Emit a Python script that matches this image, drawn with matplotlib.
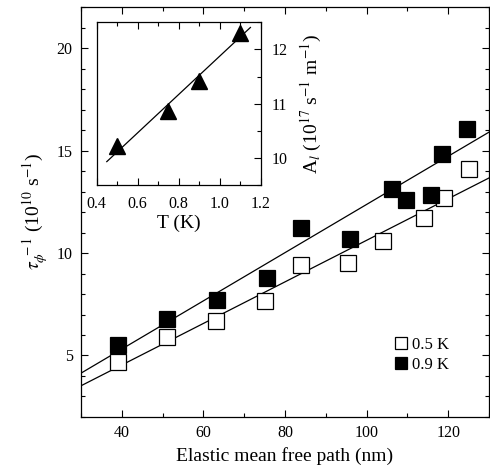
import matplotlib
matplotlib.use('Agg')
import matplotlib.pyplot as plt
from matplotlib.ticker import MultipleLocator
import numpy as np

plt.rcParams['font.family'] = ['Liberation Serif', 'DejaVu Serif']
plt.rcParams['mathtext.fontset'] = 'stix'

# dephasing rate vs elastic mean free path
path_05 = [39, 51, 63, 75, 84, 95.5, 104, 114, 119, 125]
rate_05 = [4.7, 5.9, 6.7, 7.65, 9.4, 9.5, 10.6, 11.7, 12.7, 14.1]
path_09 = [39, 51, 63.3, 75.5, 84, 96, 106.2, 109.6, 115.8, 118.4, 124.6]
rate_09 = [5.5, 6.8, 7.7, 8.8, 11.2, 10.7, 13.1, 12.6, 12.85, 14.85, 16.05]

# linear fits (slope, intercept)
fit_05 = (0.1014, 0.48)
fit_09 = (0.1176, 0.61)

# inset: slope A_l vs temperature
temp = [0.5, 0.75, 0.9, 1.1]
a_l = [10.22, 10.87, 11.42, 12.3]
fit_a = (3.53, 8.345)
fit_a_range = (0.45, 1.15)


def style_ticks(ax, size=11.5):
    ax.tick_params(which='both', direction='in', top=True, right=True,
                   labelsize=size, width=0.8, pad=6)
    ax.tick_params(which='major', length=5)
    ax.tick_params(which='minor', length=3)
    for s in ax.spines.values():
        s.set_linewidth(0.9)


fig = plt.figure(figsize=(4.9, 4.7), dpi=100)
ax = fig.add_axes([0.1653, 0.1128, 0.8327, 0.8722])

xf = np.array([30, 130])
ax.plot(xf, fit_05[0] * xf + fit_05[1], color='black', lw=0.9)
ax.plot(xf, fit_09[0] * xf + fit_09[1], color='black', lw=0.9)
ax.plot(path_05, rate_05, 's', ms=11, mfc='white', mec='black', mew=0.9,
        label='0.5 K')
ax.plot(path_09, rate_09, 's', ms=11, mfc='black', mec='black', mew=0.9,
        label='0.9 K')

ax.set_xlim(30, 130)
ax.set_ylim(2, 22)
ax.xaxis.set_major_locator(MultipleLocator(20))
ax.xaxis.set_minor_locator(MultipleLocator(10))
ax.yaxis.set_major_locator(MultipleLocator(5))
ax.yaxis.set_minor_locator(MultipleLocator(1))
style_ticks(ax)
ax.set_xlabel('Elastic mean free path (nm)', fontsize=14, labelpad=4)
ax.set_ylabel(r'$\tau_{\phi}^{\ -1}$ (10$^{10}$ s$^{-1}$)', fontsize=14,
              labelpad=4)
ax.legend(loc='lower right', bbox_to_anchor=(0.94, 0.07), frameon=False,
          fontsize=12, markerscale=0.75, handlelength=0.8, handletextpad=0.3,
          labelspacing=0.25)

ins = fig.add_axes([0.197, 0.606, 0.335, 0.3466])
tf = np.array(fit_a_range)
ins.plot(tf, fit_a[0] * tf + fit_a[1], color='black', lw=0.9)
ins.plot(temp, a_l, '^', ms=12, color='black')
ins.set_xlim(0.4, 1.2)
ins.set_ylim(9.5, 12.5)
ins.xaxis.set_major_locator(MultipleLocator(0.2))
ins.xaxis.set_minor_locator(MultipleLocator(0.1))
ins.yaxis.set_major_locator(MultipleLocator(1))
ins.yaxis.set_minor_locator(MultipleLocator(0.5))
style_ticks(ins)
ins.tick_params(which='both', left=False, labelleft=False, labelright=True,
                pad=8)
ins.yaxis.set_label_position('right')
ins.set_xlabel('T (K)', fontsize=14, labelpad=2)
ins.set_ylabel(r'A$_l$ (10$^{17}$ s$^{-1}$ m$^{-1}$)', fontsize=14,
               labelpad=8)

fig.savefig('out.png', dpi=100)
